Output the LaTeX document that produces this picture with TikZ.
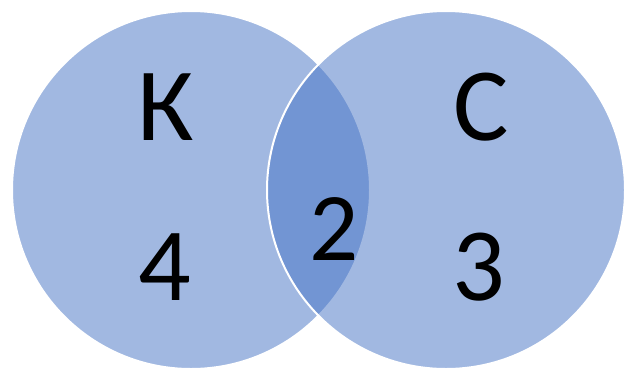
\documentclass[tikz,border=0pt]{standalone}
\usepackage{fontspec}
\setmainfont{Carlito}
\begin{document}
\begin{tikzpicture}[x=1pt, y=-1pt]
            \definecolor{colSet}{HTML}{4472C4}
            \tikzset{
                setdisc/.style={fill=colSet, fill opacity=0.5, draw=white, line width=2pt},
                setlabel/.style={anchor=base, inner sep=0pt, font=\fontsize{104}{104}\selectfont}
            }
            \useasboundingbox (0,0) rectangle (628,367);

            % Sets
            \filldraw[setdisc] (191,190) circle [radius=179pt];
            \filldraw[setdisc] (446,190) circle [radius=179pt];

            % Names
            \node[setlabel] (nameK) at (166,140) {К};
            \node[setlabel] (nameS) at (481,140) {С};

            % Counts
            \node[setlabel] (onlyK) at (165,300) {4};
            \node[setlabel, font=\fontsize{97}{97}\selectfont] (both) at (334,260) {2};
            \node[setlabel] (onlyS) at (479,300) {3};
        \end{tikzpicture}
\end{document}
